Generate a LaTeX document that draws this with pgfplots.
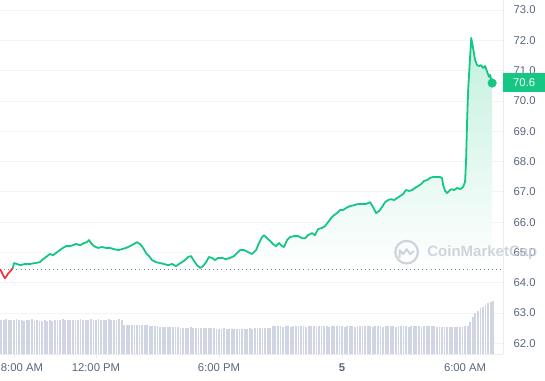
\documentclass[border=0pt]{standalone}
\usepackage{fontspec}
\setmainfont{Liberation Sans}
\usepackage{pgfplots}
\usepackage{pgfplotstable}
\pgfplotsset{compat=1.18}

\definecolor{cmcgreen}{RGB}{22,199,132}
\definecolor{cmcred}{RGB}{234,57,67}
\definecolor{labelgray}{RGB}{88,102,126}
\definecolor{gridc}{RGB}{243,244,246}
\definecolor{axisc}{RGB}{234,236,240}
\definecolor{volc}{RGB}{207,213,227}
\definecolor{dotc}{RGB}{125,135,155}
\definecolor{wmc}{RGB}{200,205,215}

% price (hours since midnight of day 4, USD)
\pgfplotstableread{
x y
7.32 64.45
7.40 64.36
7.48 64.24
7.56 64.15
7.64 64.22
7.72 64.31
7.82 64.38
7.95 64.49
}\redpart

\pgfplotstableread{
x y
7.95 64.49
8.00 64.65
8.15 64.62
8.30 64.58
8.54 64.62
8.78 64.62
9.03 64.65
9.27 64.68
9.42 64.78
9.56 64.85
9.76 64.95
9.90 64.91
10.05 64.98
10.24 65.08
10.39 65.15
10.54 65.21
10.73 65.21
10.88 65.24
11.03 65.28
11.22 65.24
11.42 65.31
11.56 65.34
11.66 65.41
11.76 65.31
11.90 65.21
12.10 65.15
12.30 65.18
12.49 65.15
12.68 65.15
12.88 65.11
13.08 65.08
13.27 65.11
13.47 65.15
13.66 65.21
13.86 65.28
14.00 65.34
14.15 65.28
14.30 65.15
14.44 64.98
14.59 64.88
14.73 64.75
14.93 64.68
15.12 64.65
15.32 64.62
15.51 64.58
15.71 64.62
15.90 64.55
16.05 64.62
16.20 64.68
16.34 64.75
16.49 64.85
16.64 64.88
16.78 64.72
16.93 64.58
17.08 64.49
17.22 64.55
17.37 64.68
17.51 64.85
17.66 64.82
17.81 64.75
17.95 64.82
18.15 64.82
18.34 64.78
18.54 64.82
18.73 64.88
18.88 64.98
19.03 65.08
19.22 65.08
19.42 65.01
19.61 64.95
19.81 65.08
19.95 65.31
20.10 65.51
20.20 65.57
20.34 65.47
20.49 65.38
20.63 65.28
20.78 65.21
20.93 65.31
21.07 65.21
21.17 65.18
21.32 65.41
21.47 65.51
21.66 65.54
21.86 65.54
22.05 65.47
22.20 65.47
22.34 65.57
22.54 65.64
22.68 65.57
22.83 65.77
23.03 65.81
23.17 65.87
23.32 66.00
23.47 66.14
23.61 66.23
23.76 66.30
23.90 66.40
24.05 66.40
24.20 66.47
24.39 66.53
24.59 66.56
24.78 66.60
24.98 66.60
25.17 66.60
25.37 66.66
25.51 66.50
25.66 66.30
25.81 66.37
25.95 66.50
26.10 66.66
26.25 66.73
26.39 66.76
26.54 66.73
26.69 66.80
26.83 66.86
26.98 66.93
27.12 67.06
27.27 67.03
27.42 67.06
27.56 67.13
27.71 67.19
27.86 67.26
28.00 67.36
28.15 67.39
28.30 67.46
28.44 67.49
28.59 67.49
28.78 67.49
28.88 67.46
28.93 67.22
29.03 67.03
29.12 66.96
29.22 67.03
29.32 67.09
29.47 67.06
29.61 67.13
29.76 67.09
29.90 67.16
30.00 67.33
30.05 68.05
30.10 69.37
30.15 70.36
30.25 71.51
30.30 72.08
30.39 71.75
30.49 71.35
30.59 71.18
30.69 71.15
30.78 71.18
30.88 71.09
30.98 71.15
31.08 70.95
31.17 70.79
31.22 70.86
31.32 70.59
}\greenpart

\begin{document}
\begin{tikzpicture}
\path[use as bounding box] (0,0) rectangle (545pt,380pt);

\begin{axis}[
  at={(0pt,26pt)}, anchor=south west,
  width=503pt, height=354pt, scale only axis,
  xmin=7.32, xmax=31.85, ymin=61.65, ymax=73.33,
  clip=false,
  axis x line*=bottom, axis y line*=right,
  axis line style={draw=axisc, line width=0.8pt},
  xtick={8,12,18,24,30},
  xticklabels={\hspace*{16pt}8:00 AM, 12:00 PM, 6:00 PM, \textbf{5}, 6:00 AM},
  ytick={62,63,...,73},
  ymajorgrids, grid style={draw=gridc, line width=0.8pt},
  tick align=outside, major tick length=4pt,
  xtick style={draw=axisc, line width=0.8pt},
  ytick style={draw=none},
  ticklabel style={font=\fontsize{11.3}{13}\selectfont, text=labelgray},
  xticklabel style={yshift=-2pt},
  yticklabel style={xshift=3pt, /pgf/number format/.cd, fixed, fixed zerofill, precision=1, assume math mode=true},
]
% shaded area under the green line down to the opening price
\addplot[draw=none, top color=cmcgreen!26, bottom color=white, forget plot]
  table {\greenpart} -- (axis cs:31.32,64.45) -- (axis cs:7.95,64.45) -- cycle;
% opening-price reference
\addplot[dotc, line width=0.9pt, dash pattern=on 0.9pt off 3.2pt] coordinates {(7.32,64.45) (31.85,64.45)};
\addplot[cmcred, line width=1.8pt, line join=round] table {\redpart};
\addplot[cmcgreen, line width=1.8pt, line join=round] table {\greenpart};
\addplot[only marks, mark=*, mark size=4.3pt, cmcgreen] coordinates {(31.32,70.59)};
\coordinate (tagpos) at (axis cs:31.85,70.6);
\coordinate (wm) at (axis cs:28.15,65.01);
\end{axis}

\begin{axis}[
  at={(0pt,26pt)}, anchor=south west,
  width=503pt, height=354pt, scale only axis,
  xmin=7.32, xmax=31.85, ymin=0, ymax=35.4,
  hide axis, clip=false,
]
\addplot[ycomb, volc, line width=1.8pt, line cap=butt] coordinates {
(7.375,3.4) (7.5,3.4) (7.625,3.5) (7.75,3.4) (7.875,3.4)
(8.0,3.4) (8.125,3.5) (8.25,3.4) (8.375,3.4) (8.5,3.3) (8.625,3.4) (8.75,3.4) (8.875,3.5)
(9.0,3.3) (9.125,3.4) (9.25,3.3) (9.375,3.3) (9.5,3.4) (9.625,3.3) (9.75,3.4) (9.875,3.3)
(10.0,3.4) (10.125,3.4) (10.25,3.4) (10.375,3.5) (10.5,3.4) (10.625,3.4) (10.75,3.4) (10.875,3.4)
(11.0,3.4) (11.125,3.4) (11.25,3.5) (11.375,3.4) (11.5,3.4) (11.625,3.4) (11.75,3.5) (11.875,3.4)
(12.0,3.4) (12.125,3.5) (12.25,3.4) (12.375,3.4) (12.5,3.4) (12.625,3.5) (12.75,3.4) (12.875,3.4)
(13.0,3.4) (13.125,3.5) (13.25,3.4) (13.375,2.9) (13.5,2.9) (13.625,2.9) (13.75,2.9) (13.875,2.9)
(14.0,2.9) (14.125,2.9) (14.25,2.9) (14.375,2.9) (14.5,2.9) (14.625,2.8) (14.75,2.8) (14.875,2.8)
(15.0,2.8) (15.125,2.75) (15.25,2.75) (15.375,2.75) (15.5,2.7) (15.625,2.7) (15.75,2.7) (15.875,2.7)
(16.0,2.7) (16.125,2.65) (16.25,2.65) (16.375,2.65) (16.5,2.65) (16.625,2.7) (16.75,2.65) (16.875,2.65)
(17.0,2.65) (17.125,2.6) (17.25,2.65) (17.375,2.65) (17.5,2.6) (17.625,2.6) (17.75,2.6) (17.875,2.55)
(18.0,2.55) (18.125,2.55) (18.25,2.6) (18.375,2.55) (18.5,2.55) (18.625,2.5) (18.75,2.55) (18.875,2.55)
(19.0,2.55) (19.125,2.5) (19.25,2.55) (19.375,2.55) (19.5,2.6) (19.625,2.55) (19.75,2.6) (19.875,2.6)
(20.0,2.6) (20.125,2.6) (20.25,2.65) (20.375,2.6) (20.5,2.6) (20.625,2.8) (20.75,2.8) (20.875,2.8)
(21.0,2.8) (21.125,2.75) (21.25,2.8) (21.375,2.8) (21.5,2.75) (21.625,2.8) (21.75,2.8) (21.875,2.8)
(22.0,2.8) (22.125,2.8) (22.25,2.75) (22.375,2.8) (22.5,2.8) (22.625,2.8) (22.75,2.75) (22.875,2.8)
(23.0,2.8) (23.125,2.8) (23.25,2.8) (23.375,2.75) (23.5,2.8) (23.625,2.8) (23.75,2.8) (23.875,2.8)
(24.0,2.8) (24.125,2.75) (24.25,2.8) (24.375,2.8) (24.5,2.8) (24.625,2.75) (24.75,2.8) (24.875,2.8)
(25.0,2.8) (25.125,2.8) (25.25,2.8) (25.375,2.8) (25.5,2.75) (25.625,2.8) (25.75,2.8) (25.875,2.8)
(26.0,2.75) (26.125,2.8) (26.25,2.8) (26.375,2.8) (26.5,2.8) (26.625,2.75) (26.75,2.8) (26.875,2.8)
(27.0,2.8) (27.125,2.8) (27.25,2.75) (27.375,2.8) (27.5,2.8) (27.625,2.8) (27.75,2.8) (27.875,2.75)
(28.0,2.8) (28.125,2.8) (28.25,2.8) (28.375,2.8) (28.5,2.8) (28.625,2.75) (28.75,2.7) (28.875,2.67)
(29.0,2.67) (29.125,2.67) (29.25,2.67) (29.375,2.67) (29.5,2.67) (29.625,2.67) (29.75,2.67) (29.875,2.67)
(30.0,2.8) (30.125,2.8) (30.25,3.2) (30.375,3.7) (30.5,4.1) (30.625,4.3) (30.75,4.6) (30.875,4.7)
(31.0,4.9) (31.125,5.1) (31.25,5.2) (31.375,5.3)
};
\end{axis}

% watermark
\draw[wmc, line width=2.2pt, opacity=0.85] ([xshift=-20.5pt]wm) circle (11.3pt);
\draw[wmc, line width=2pt, opacity=0.85, line join=round, line cap=round]
  ([xshift=-27.5pt,yshift=-5pt]wm) -- ([xshift=-27.5pt,yshift=2pt]wm) -- ([xshift=-24pt,yshift=-2pt]wm) -- ([xshift=-20.5pt,yshift=3pt]wm) -- ([xshift=-17pt,yshift=-2pt]wm) -- ([xshift=-13.5pt,yshift=1pt]wm);
\node[anchor=west, text=wmc, opacity=0.85, font=\fontsize{15}{17}\selectfont\bfseries, inner sep=0pt] at (wm) {CoinMarketCap};

% price tag
\node[fill=cmcgreen, text=white, anchor=west, minimum width=42pt, minimum height=19.5pt, inner sep=0pt,
      font=\fontsize{11.3}{13}\selectfont] at (tagpos) {70.6};
\end{tikzpicture}
\end{document}
